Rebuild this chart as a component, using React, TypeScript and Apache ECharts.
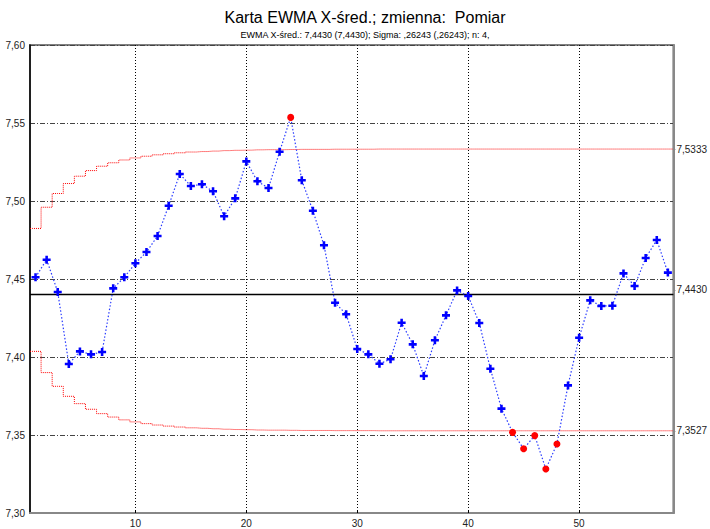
import React, { useEffect, useRef } from "react";
import * as echarts from "echarts";

const TITLE = "Karta EWMA X-śred.; zmienna:  Pomiar";
const SUBTITLE = "EWMA X-śred.: 7,4430 (7,4430); Sigma: ,26243 (,26243); n: 4,";

const CENTER = 7.443;
const X_MIN = 0.5;
const X_MAX = 58.5;
const X_TICKS = [10, 20, 30, 40, 50];

const ewma = [
  7.4511, 7.4624, 7.4417, 7.3955, 7.4036, 7.4017, 7.4032, 7.444, 7.4511, 7.4601,
  7.4673, 7.4776, 7.497, 7.5173, 7.5096, 7.5107, 7.5062, 7.4902, 7.5017, 7.5254,
  7.5126, 7.5083, 7.5316, 7.5536, 7.5133, 7.4938, 7.4716, 7.4348, 7.4274, 7.4051,
  7.4017, 7.3957, 7.3985, 7.422, 7.4081, 7.3878, 7.4107, 7.4267, 7.4427, 7.4391,
  7.4218, 7.3925, 7.3669, 7.3517, 7.3412, 7.3496, 7.3282, 7.3442, 7.3818, 7.4124,
  7.4363, 7.4327, 7.4329, 7.4536, 7.4455, 7.4635, 7.475, 7.4541,
];

const ucl = [
  7.4824, 7.496, 7.5048, 7.5112, 7.5159, 7.5195, 7.5223, 7.5245, 7.5263, 7.5276,
  7.5287, 7.5296, 7.5303, 7.5309, 7.5314, 7.5317, 7.532, 7.5323, 7.5325, 7.5326,
  7.5328, 7.5329, 7.5329, 7.533, 7.5331, 7.5331, 7.5331, 7.5332, 7.5332, 7.5332,
  7.5332, 7.5333, 7.5333, 7.5333, 7.5333, 7.5333, 7.5333, 7.5333, 7.5333, 7.5333,
  7.5333, 7.5333, 7.5333, 7.5333, 7.5333, 7.5333, 7.5333, 7.5333, 7.5333, 7.5333,
  7.5333, 7.5333, 7.5333, 7.5333, 7.5333, 7.5333, 7.5333, 7.5333,
];

const lcl = [
  7.4036, 7.39, 7.3812, 7.3748, 7.3701, 7.3665, 7.3637, 7.3615, 7.3597, 7.3584,
  7.3573, 7.3564, 7.3557, 7.3551, 7.3546, 7.3543, 7.354, 7.3537, 7.3535, 7.3534,
  7.3532, 7.3531, 7.3531, 7.353, 7.3529, 7.3529, 7.3529, 7.3528, 7.3528, 7.3528,
  7.3528, 7.3527, 7.3527, 7.3527, 7.3527, 7.3527, 7.3527, 7.3527, 7.3527, 7.3527,
  7.3527, 7.3527, 7.3527, 7.3527, 7.3527, 7.3527, 7.3527, 7.3527, 7.3527, 7.3527,
  7.3527, 7.3527, 7.3527, 7.3527, 7.3527, 7.3527, 7.3527, 7.3527,
];

const PLUS = "path://M3.4,0h3.2v3.4h3.4v3.2h-3.4v3.4h-3.2v-3.4h-3.4v-3.2h3.4z";
const FONT = "Liberation Sans, Arial, sans-serif";

function limitData(arr: number[]) {
  const pts: number[][] = [[X_MIN, arr[0]]];
  arr.forEach((v, i) => pts.push([i + 1, v]));
  pts.push([X_MAX, arr[arr.length - 1]]);
  return pts;
}

export default function App() {
  const ref = useRef<HTMLDivElement>(null);
  useEffect(() => {
    if (!ref.current) return;
    const chart = echarts.init(ref.current, undefined, { renderer: "svg" });
    const ewmaData = ewma.map((v, i) => {
      const out = v > ucl[i] || v < lcl[i];
      return out
        ? {
            value: [i + 1, v],
            symbol: "circle",
            symbolSize: 7,
            itemStyle: { color: "#ff0000" },
          }
        : { value: [i + 1, v] };
    });
    const comma = (d: number) => (v: number) => v.toFixed(d).replace(".", ",");
    chart.setOption({
      animation: false,
      backgroundColor: "#ffffff",
      textStyle: { fontFamily: FONT },
      title: [
        {
          text: TITLE,
          left: 360,
          textAlign: "center",
          top: 4,
          textStyle: { fontFamily: FONT, fontSize: 16, fontWeight: "normal", color: "#000" },
        },
        {
          text: SUBTITLE,
          left: 360,
          textAlign: "center",
          top: 25,
          textStyle: { fontFamily: FONT, fontSize: 9, fontWeight: "normal", color: "#000" },
        },
      ],
      grid: {
        left: 30,
        right: 32,
        top: 45,
        bottom: 16,
        show: true,
        borderColor: "#808080",
        borderWidth: 2,
        backgroundColor: "transparent",
      },
      xAxis: {
        type: "value",
        min: X_MIN,
        max: X_MAX,
        axisLine: { show: true, lineStyle: { color: "#888", width: 2 } },
        axisTick: { show: true, customValues: X_TICKS, inside: true, length: 3, lineStyle: { color: "#000" } },
        axisLabel: {
          customValues: X_TICKS,
          fontSize: 10,
          color: "#222",
          margin: 5,
          fontFamily: FONT,
        },
        splitLine: {
          show: true,
          lineStyle: { color: "#000", type: [1, 2], width: 1 },
        },
      },
      yAxis: [
        {
          type: "value",
          min: 7.3,
          max: 7.6,
          interval: 0.05,
          axisLine: { show: true, lineStyle: { color: "#000", width: 1.5 } },
          axisTick: { show: false },
          axisLabel: {
            formatter: comma(2),
            fontSize: 10,
            color: "#222",
            margin: 5,
            fontFamily: FONT,
          },
          splitLine: {
            show: true,
            lineStyle: { color: "#444", type: [5, 2, 1, 2], width: 1 },
          },
        },
        {
          type: "value",
          position: "right",
          min: 7.3,
          max: 7.6,
          axisLine: { show: true, lineStyle: { color: "#888", width: 2 } },
          axisTick: {
            show: true,
            customValues: [lcl[lcl.length - 1], CENTER, ucl[ucl.length - 1]],
            length: 2,
            lineStyle: { color: "#888" },
          },
          axisLabel: {
            customValues: [lcl[lcl.length - 1], CENTER, ucl[ucl.length - 1]],
            formatter: comma(4),
            fontSize: 10,
            color: "#222",
            margin: 3,
            fontFamily: FONT,
          },
          splitLine: { show: false },
        },
      ],
      series: [
        {
          type: "line",
          data: limitData(ucl),
          step: "middle",
          symbol: "none",
          lineStyle: { color: "#ff0000", width: 1, type: [1, 1] },
          z: 3,
          silent: true,
        },
        {
          type: "line",
          data: limitData(lcl),
          step: "middle",
          symbol: "none",
          lineStyle: { color: "#ff0000", width: 1, type: [1, 1] },
          z: 3,
          silent: true,
        },
        {
          type: "line",
          data: ewmaData,
          symbol: PLUS,
          symbolSize: 8,
          itemStyle: { color: "#0000ff" },
          lineStyle: { color: "#2a3cff", width: 1.2, type: [1.5, 2] },
          z: 5,
          markLine: {
            silent: true,
            symbol: "none",
            label: { show: false },
            lineStyle: { color: "#000", type: "solid", width: 1.3 },
            data: [{ yAxis: CENTER }],
          },
        },
      ],
    });
    return () => chart.dispose();
  }, []);
  return (
    <div
      ref={ref}
      style={{ position: "fixed", left: 0, top: 0, width: 710, height: 529, background: "#fff" }}
    />
  );
}
